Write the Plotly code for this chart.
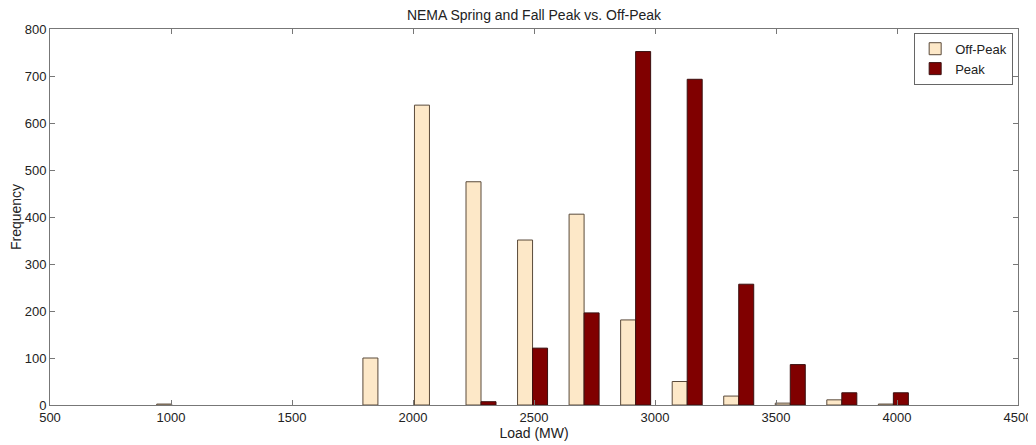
import plotly.graph_objects as go

bin_centers = [1003, 1216, 1429, 1642, 1855, 2068, 2281, 2494, 2707, 2920, 3133, 3346, 3559, 3772, 3985]
off_peak = [2, 0, 0, 0, 100, 638, 475, 351, 406, 181, 50, 19, 4, 11, 2]
peak = [0, 0, 0, 0, 0, 0, 7, 121, 196, 752, 693, 257, 86, 26, 26]
x_ticks = [500, 1000, 1500, 2000, 2500, 3000, 3500, 4000, 4500]
y_ticks = [0, 100, 200, 300, 400, 500, 600, 700, 800]

font = "Liberation Sans, Arial, sans-serif"

# empty bins are not drawn (MATLAB shows nothing for them)
off_vals = [v if v > 0 else None for v in off_peak]
peak_vals = [v if v > 0 else None for v in peak]

fig = go.Figure()
fig.add_trace(go.Bar(x=bin_centers, y=off_vals, name="Off-Peak",
                     marker=dict(color="#FDE8C8", line=dict(color="#5a4a3a", width=1))))
fig.add_trace(go.Bar(x=bin_centers, y=peak_vals, name="Peak",
                     marker=dict(color="#800000", line=dict(color="#3a1010", width=1))))

# the page body has an 8px margin, so the figure is sized to end at the window edge
W, H = 1028, 437
fig.update_layout(
    width=W, height=H,
    margin=dict(l=42, r=18, t=21, b=40),
    paper_bgcolor="white", plot_bgcolor="white",
    barmode="group", bargap=0.418, bargroupgap=0,
    font=dict(family=font, size=13, color="#222"),
    title=dict(text="NEMA Spring and Fall Peak vs. Off-Peak", x=0.5, xref="paper",
               y=1 - 7 / H, yref="container", yanchor="middle", font=dict(size=14)),
    showlegend=True,
    legend=dict(x=0.995, y=0.99, xanchor="right", yanchor="top",
                bordercolor="#666", borderwidth=1, bgcolor="white",
                font=dict(size=13), tracegroupgap=0, itemwidth=30),
)
fig.update_xaxes(range=[500, 4500], tickvals=x_ticks, ticks="inside", ticklen=5,
                 tickcolor="#777", showline=True, linecolor="#777", linewidth=1,
                 mirror="ticks", showgrid=False, zeroline=False, automargin=False,
                 tickfont=dict(size=13),
                 title=dict(text="Load (MW)", standoff=1, font=dict(size=14)))
fig.update_yaxes(range=[0, 800], tickvals=y_ticks, ticks="inside", ticklen=5,
                 tickcolor="#777", showline=True, linecolor="#777", linewidth=1,
                 mirror="ticks", showgrid=False, zeroline=False, automargin=False,
                 tickfont=dict(size=13),
                 title=dict(text="Frequency", standoff=13, font=dict(size=14)))

fig.write_html("out.html")
